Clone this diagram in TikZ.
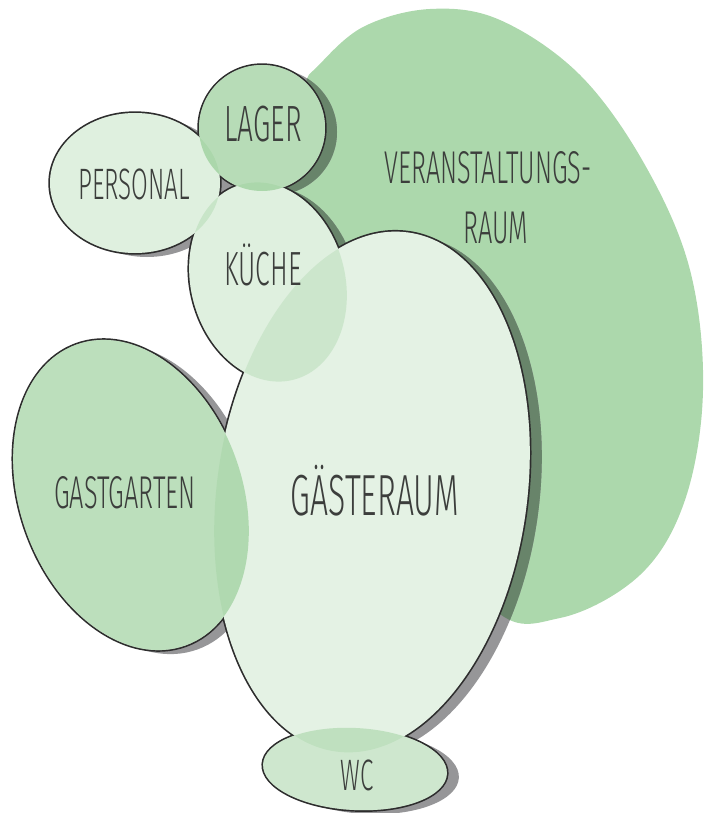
\documentclass[tikz,border=0pt]{standalone}
\usepackage{fontspec}
\newfontfamily\roomfont{Fira Sans Light}[FakeStretch=0.55]
\usepackage{xcolor}

\definecolor{vrgreen}{RGB}{172,216,172}
\definecolor{roomgreen}{RGB}{140,200,140}
\definecolor{shadowgray}{RGB}{150,150,152}
\definecolor{shadowgreen}{RGB}{104,132,106}
\definecolor{outline}{RGB}{45,45,45}
\definecolor{ink}{RGB}{60,62,60}

% the rooms (pixel coordinates, y pointing down)
\newcommand{\gaesteraum}[1]{\path[#1, rotate around={-8:(372,492)}] (372,492) ellipse [x radius=155, y radius=262];}
\newcommand{\kueche}[1]{\path[#1, rotate around={15:(268,282)}] (268,282) ellipse [x radius=77, y radius=101];}
\newcommand{\lager}[1]{\path[#1] (262,128) circle [radius=63];}
\newcommand{\personal}[1]{\path[#1] (135,183) ellipse [x radius=85, y radius=70];}
\newcommand{\gastgarten}[1]{\path[#1, rotate around={20:(131,495)}] (131,495) ellipse [x radius=111, y radius=160];}
\newcommand{\wc}[1]{\path[#1, rotate around={-3:(355,769)}] (355,769) ellipse [x radius=92, y radius=41];}
\newcommand{\allrooms}[1]{\gaesteraum{#1}\kueche{#1}\lager{#1}\personal{#1}\gastgarten{#1}\wc{#1}}
\newcommand{\veranstaltung}{plot[smooth cycle, tension=0.6] coordinates {(317,67) (363,27) (430,9) (500,20) (580,75) (645,165) (690,270) (703,390) (685,500) (640,575) (560,618) (490,605) (400,450) (320,260) (280,200) (290,150) (305,85)}}

\begin{document}
\begin{tikzpicture}[x=1pt, y=-1pt,
  roomlabel/.style={anchor=base, text=ink, inner sep=0pt},
  shadowshift/.style={shift={(12,4)}}]
\useasboundingbox (0,0) rectangle (714,813);

% big hall behind everything
\fill[vrgreen] \veranstaltung;

% shadows
\begin{scope}[shadowshift]
  \allrooms{fill=shadowgray}
\end{scope}
\begin{scope}
  \clip \veranstaltung;
  \begin{scope}[shadowshift]
    \allrooms{fill=shadowgreen}
  \end{scope}
\end{scope}

% outline of the whole group
\allrooms{draw=outline, line width=3.4}
\allrooms{fill=white}

% room colours
\gaesteraum{fill=roomgreen, fill opacity=.23}
\kueche{fill=roomgreen, fill opacity=.27}
\personal{fill=roomgreen, fill opacity=.27}
\lager{fill=roomgreen, fill opacity=.62}
\gastgarten{fill=roomgreen, fill opacity=.58}
\wc{fill=roomgreen, fill opacity=.42}

% labels
\node[roomlabel, font=\roomfont\fontsize{51}{51}\selectfont] (lagertext) at (263,142) {LAGER};
\node[roomlabel, font=\roomfont\fontsize{44}{44}\selectfont] (personaltext) at (134,200) {PERSONAL};
\node[roomlabel, font=\roomfont\fontsize{48}{48}\selectfont] (kuechetext) at (263,285) {KÜCHE};
\node[roomlabel, font=\roomfont\fontsize{46}{46}\selectfont] (veranstaltungtext) at (488,183) {VERANSTALTUNGS-};
\node[roomlabel, font=\roomfont\fontsize{46}{46}\selectfont] (raumtext) at (496,243) {RAUM};
\node[roomlabel, font=\roomfont\fontsize{46}{46}\selectfont] (gastgartentext) at (125,508) {GASTGARTEN};
\node[roomlabel, font=\roomfont\fontsize{58}{58}\selectfont] (gaestetext) at (375,515) {GÄSTERAUM};
\node[roomlabel, font=\roomfont\fontsize{44}{44}\selectfont] (wctext) at (357,790) {WC};
\end{tikzpicture}
\end{document}
